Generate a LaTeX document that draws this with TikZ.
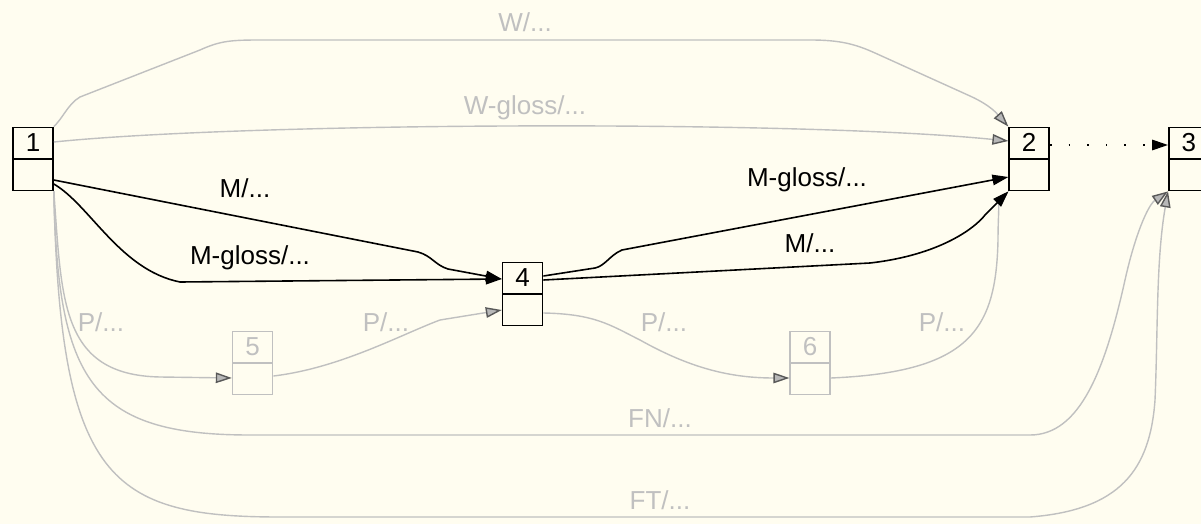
\documentclass[tikz,border=0pt]{standalone}
\usepackage{fontspec}
\setmainfont{Liberation Sans}
\usetikzlibrary{positioning,shapes.multipart,arrows.meta}

\definecolor{paper}{HTML}{FFFDF0}
\definecolor{lightgrey}{HTML}{C0C0C0}
\newcommand{\recpart}{\rule[-7pt]{0pt}{30pt}}

\begin{document}
\begin{tikzpicture}[x=1pt,y=-1pt,
	recnode/.style={rectangle split,rectangle split parts=2,draw,line width=1.6pt,minimum width=40pt,inner xsep=0pt,inner ysep=0pt,font=\fontsize{26}{30}\selectfont},
	greynode/.style={recnode,draw=lightgrey,text=lightgrey},
	blackedge/.style={line width=1.6pt,-{Triangle[length=16pt,width=10.5pt]}},
	greyedge/.style={line width=1.4pt,draw=lightgrey,-{Triangle[length=16pt,width=10.5pt,color=black!65,fill=black!28]}},
	elabel/.style={font=\fontsize{26}{30}\selectfont,inner sep=0pt},
	greylabel/.style={elabel,text=lightgrey}]
		\fill[paper] (0,0) rectangle (1201,524);
		\useasboundingbox (0,0) rectangle (1201,524);

		\node[recnode] at (33,159)										(1)	{1\recpart\nodepart{two}\recpart};
		\node[recnode,node distance=448pt,right=of 1,yshift=-135pt]	(4)	{4\recpart\nodepart{two}\recpart};
		\node[recnode,node distance=465pt,right=of 4,yshift=135pt]	(2)	{2\recpart\nodepart{two}\recpart};
		\node[recnode,node distance=118pt,right=of 2]					(3)	{3\recpart\nodepart{two}\recpart};
		\node[greynode,node distance=178pt,right=of 1,yshift=-204pt]	(5)	{5\recpart\nodepart{two}\recpart};
		\node[greynode,node distance=246pt,right=of 4,yshift=-69pt]	(6)	{6\recpart\nodepart{two}\recpart};

		% grey edges
		\draw[greyedge] (1.north east) .. controls (63,118) and (68,104) .. (80,97) -- (200,50) .. controls (220,41) and (230,40) .. (260,40) -- (810,40) .. controls (840,40) and (855,44) .. (875,53) -- (970,96) .. controls (992,106) and (998,115) .. (2.north west);
		\draw[greyedge] ([yshift=17pt]1.east) .. controls (250,122) and (800,120) .. ([yshift=18pt]2.west);
		\draw[greyedge] (1.south east) .. controls (62,300) and (60,375) .. (160,377) -- ([yshift=-15pt]5.west);
		\draw[greyedge] ([yshift=-13pt]5.east) .. controls (340,368) and (400,335) .. (440,320) -- ([yshift=-16pt]4.west);
		\draw[greyedge] ([yshift=-19pt]4.east) .. controls (595,314) and (610,325) .. (640,340) .. controls (690,368) and (730,378) .. ([yshift=-15pt]6.west);
		\draw[greyedge] ([yshift=-15pt]6.east) .. controls (970,372) and (996,330) .. (998,240) .. controls (998,215) and (1000,200) .. (2.south west);
		\draw[greyedge] (1.south east) .. controls (58,380) and (90,435) .. (250,435) -- (1030,435) .. controls (1080,435) and (1105,370) .. (1125,280) .. controls (1135,235) and (1148,205) .. (3.south west);
		\draw[greyedge] (1.south east) .. controls (60,480) and (110,517) .. (280,517) -- (1030,517) .. controls (1120,510) and (1150,470) .. (1155,400) .. controls (1158,330) and (1156,260) .. (3.south west);

		% black edges
		\draw[blackedge] ([yshift=-21pt]1.east) -- (418,252) .. controls (432,256) and (435,265) .. (448,269) -- ([yshift=15pt]4.west);
		\draw[blackedge] ([yshift=-25pt]1.east) .. controls (90,205) and (120,270) .. (180,282) -- ([yshift=15pt]4.west);
		\draw[blackedge] ([yshift=18pt]4.east) -- (595,268) .. controls (605,266) and (610,255) .. (622,250) -- ([yshift=-18pt]2.west);
		\draw[blackedge] ([yshift=14pt]4.east) -- (870,263) .. controls (940,255) and (975,228) .. (985,215) -- (2.south west);
		\draw[blackedge,dash pattern=on 1.6pt off 17pt] ([yshift=14pt]2.east) -- ([yshift=14pt]3.west);

		% labels
		\node[greylabel] (lw)	at (525,22)	{W/...};
		\node[greylabel] (lwg)	at (525,108)	{W-gloss/...};
		\node[elabel] (lm1)		at (245,188)	{M/...};
		\node[elabel] (lmg1)	at (250,258)	{M-gloss/...};
		\node[elabel] (lmg2)	at (807,180)	{M-gloss/...};
		\node[elabel] (lm2)		at (810,243)	{M/...};
		\node[greylabel] (lp1)	at (101,322)	{P/...};
		\node[greylabel] (lp2)	at (386,322)	{P/...};
		\node[greylabel] (lp3)	at (664,322)	{P/...};
		\node[greylabel] (lp4)	at (942,322)	{P/...};
		\node[greylabel] (lfn)	at (660,418)	{FN/...};
		\node[greylabel] (lft)	at (660,500)	{FT/...};
	\end{tikzpicture}
\end{document}
